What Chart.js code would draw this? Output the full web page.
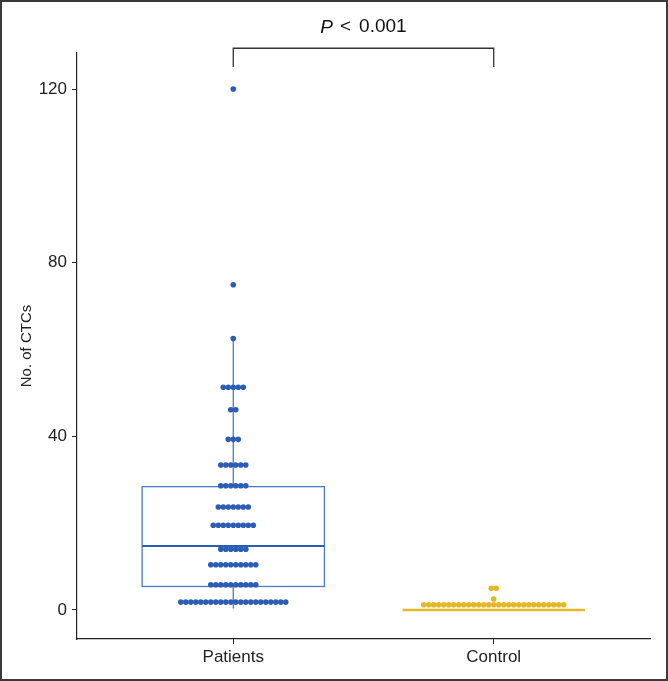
<!DOCTYPE html>
<html>
<head>
<meta charset="utf-8">
<script src="https://cdn.jsdelivr.net/npm/chart.js@4.4.1/dist/chart.umd.min.js"></script>
<style>
  html, body { margin: 0; padding: 0; background: #fff; }
  #frame { width: 668px; height: 681px; box-sizing: border-box; border: 2px solid #3a3a3a; background: #fff; }
  canvas { display: block; }
</style>
</head>
<body>
<div id="frame"><canvas id="c" width="664" height="677"></canvas></div>
<script>
// ---- data ----
const categories = ['Patients', 'Control'];
// dot-plot bins (value of bin centre) and number of dots in each bin
const patientBinValues = [1.8, 5.8, 10.4, 14.0, 19.5, 23.7, 28.6, 33.4, 39.3, 46.1, 51.3, 62.5, 74.9, 120];
const patientBinCounts = [22, 10, 10, 6, 9, 7, 6, 6, 3, 2, 5, 1, 1, 1];
const controlBinValues = [1.2, 2.5, 5.0];
const controlBinCounts = [29, 1, 2];
// box statistics: [lower whisker, Q1, median, Q3, upper whisker]
const patientBox = [0.3, 5.4, 14.7, 28.4, 62.5];
const controlBox = [0, 0, 0, 0, 0];
const yTickValues = [0, 40, 80, 120];
const pLabelParts = ['P', '<', '0.001'];

// ---- styles ----
const BLUE = '#2c5db6';
const BLUE_BOX = '#4a7bc8';
const YELLOW = '#e3b826';
const INK = '#222222';
const FONT = "'Liberation Sans', Arial, sans-serif";
const DOT_STEP = 0.0192;   // horizontal spacing of stacked dots (x-axis units)
const BOX_HALF = 0.35;

function stackDots(catIndex, values, counts) {
  const pts = [];
  values.forEach((v, i) => {
    const n = counts[i];
    for (let j = 0; j < n; j++) {
      pts.push({ x: catIndex + 1 + (j - (n - 1) / 2) * DOT_STEP, y: v });
    }
  });
  return pts;
}

const boxes = [
  { cat: 1, stats: patientBox, line: BLUE_BOX, med: BLUE },
  { cat: 2, stats: controlBox, line: YELLOW, med: YELLOW }
];

const boxPlugin = {
  id: 'boxPlugin',
  beforeDatasetsDraw(chart) {
    const ctx = chart.ctx, xs = chart.scales.x, ys = chart.scales.y;
    ctx.save();
    boxes.forEach(b => {
      const [lo, q1, med, q3, hi] = b.stats;
      const xl = xs.getPixelForValue(b.cat - BOX_HALF);
      const xr = xs.getPixelForValue(b.cat + BOX_HALF);
      const xc = xs.getPixelForValue(b.cat);
      if (q3 - q1 > 0) {
        ctx.strokeStyle = b.line;
        ctx.lineWidth = 1.3;
        ctx.beginPath();
        ctx.moveTo(xc, ys.getPixelForValue(hi));
        ctx.lineTo(xc, ys.getPixelForValue(q3));
        ctx.moveTo(xc, ys.getPixelForValue(q1));
        ctx.lineTo(xc, ys.getPixelForValue(lo));
        ctx.stroke();
        ctx.strokeRect(xl, ys.getPixelForValue(q3), xr - xl, ys.getPixelForValue(q1) - ys.getPixelForValue(q3));
        ctx.strokeStyle = b.med;
        ctx.lineWidth = 2;
        ctx.beginPath();
        ctx.moveTo(xl, ys.getPixelForValue(med));
        ctx.lineTo(xr, ys.getPixelForValue(med));
        ctx.stroke();
      } else {
        ctx.strokeStyle = b.med;
        ctx.lineWidth = 2.5;
        ctx.beginPath();
        ctx.moveTo(xl, ys.getPixelForValue(med));
        ctx.lineTo(xr, ys.getPixelForValue(med));
        ctx.stroke();
      }
    });
    ctx.restore();
  }
};

const bracketPlugin = {
  id: 'bracketPlugin',
  afterDraw(chart) {
    const ctx = chart.ctx, xs = chart.scales.x, ys = chart.scales.y;
    const x1 = xs.getPixelForValue(1), x2 = xs.getPixelForValue(2);
    const yTop = ys.getPixelForValue(129.4);
    const yLeg = ys.getPixelForValue(125.1);
    ctx.save();
    ctx.strokeStyle = '#333';
    ctx.lineWidth = 1.3;
    ctx.beginPath();
    ctx.moveTo(x1, yLeg); ctx.lineTo(x1, yTop); ctx.lineTo(x2, yTop); ctx.lineTo(x2, yLeg);
    ctx.stroke();
    // label: italic P, then "<", then value
    const fonts = ['italic 19px ' + FONT, '19px ' + FONT, '19px ' + FONT];
    const gaps = [7, 8];
    const widths = pLabelParts.map((t, i) => { ctx.font = fonts[i]; return ctx.measureText(t).width; });
    const total = widths.reduce((a, b) => a + b, 0) + gaps[0] + gaps[1];
    const cx = (x1 + x2) / 2;
    const ty = yTop - 21;
    ctx.fillStyle = '#111';
    ctx.textBaseline = 'middle';
    ctx.textAlign = 'left';
    let x = cx - total / 2;
    pLabelParts.forEach((t, i) => {
      ctx.font = fonts[i];
      ctx.fillText(t, x, ty);
      x += widths[i] + (gaps[i] || 0);
    });
    ctx.restore();
  }
};

new Chart(document.getElementById('c'), {
  type: 'scatter',
  data: {
    datasets: [
      { label: categories[0], data: stackDots(0, patientBinValues, patientBinCounts),
        backgroundColor: BLUE, borderWidth: 0, pointRadius: 2.8 },
      { label: categories[1], data: stackDots(1, controlBinValues, controlBinCounts),
        backgroundColor: YELLOW, borderWidth: 0, pointRadius: 2.8 }
    ]
  },
  options: {
    responsive: false,
    animation: false,
    layout: { padding: { top: 51, right: 16, left: 0, bottom: 0 } },
    plugins: { legend: { display: false }, tooltip: { enabled: false } },
    scales: {
      x: {
        type: 'linear', min: 0.4, max: 2.6,
        afterBuildTicks(axis) { axis.ticks = categories.map((c, i) => ({ value: i + 1 })); },
        afterFit(axis) { axis.height = 40; },
        ticks: {
          callback: v => categories[Math.round(v) - 1],
          font: { family: FONT, size: 17 }, color: INK, padding: 3, maxRotation: 0
        },
        grid: { drawOnChartArea: false, tickLength: 5, color: INK, lineWidth: 1 },
        border: { color: INK, width: 1.2 }
      },
      y: {
        type: 'linear', min: -6.7, max: 128.3,
        afterBuildTicks(axis) { axis.ticks = yTickValues.map(v => ({ value: v })); },
        afterFit(axis) { axis.width = 75; },
        ticks: { font: { family: FONT, size: 17 }, color: INK, padding: 5 },
        grid: { drawOnChartArea: false, tickLength: 5, color: INK, lineWidth: 1 },
        border: { color: INK, width: 1.2 },
        title: { display: true, text: 'No. of CTCs', font: { family: FONT, size: 15 }, color: INK, padding: { top: 16, bottom: 0 } }
      }
    }
  },
  plugins: [boxPlugin, bracketPlugin]
});
</script>
</body>
</html>
